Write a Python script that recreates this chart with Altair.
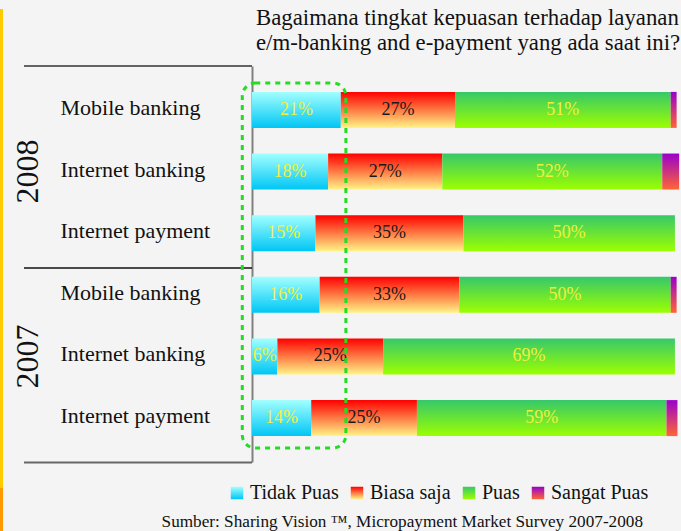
import altair as alt
import pandas as pd

# ---- data ----
years = ["2008", "2008", "2008", "2007", "2007", "2007"]
products = ["Mobile banking", "Internet banking", "Internet payment",
            "Mobile banking", "Internet banking", "Internet payment"]
categories = ["Tidak Puas", "Biasa saja", "Puas", "Sangat Puas"]
tidak_puas = [21, 18, 15, 16, 6, 14]
biasa_saja = [27, 27, 35, 33, 25, 25]
puas = [51, 52, 50, 50, 69, 59]
sangat_puas = [1.4, 4.0, 0.0, 1.4, 0.0, 2.6]

title_lines = ["Bagaimana tingkat kepuasan terhadap layanan",
               "e/m-banking and e-payment yang ada saat ini?"]
source_text = "Sumber: Sharing Vision \u2122, Micropayment Market Survey 2007-2008"

FONT = "Liberation Serif"

rows = [f"{y}|{p}" for y, p in zip(years, products)]
series = [tidak_puas, biasa_saja, puas, sangat_puas]
records = []
for i, r in enumerate(rows):
    for j, c in enumerate(categories):
        records.append({"row": r, "category": c, "order": j, "value": series[j][i]})
df = pd.DataFrame(records)

year_df = pd.DataFrame({"year": [years[1], years[4]], "row": [rows[1], rows[4]]})
dummy = pd.DataFrame({"a": [0]})


def grad(top, bottom):
    return {"expr": "{gradient: 'linear', x1: 0, y1: 0, x2: 0, y2: 1, "
                    f"stops: [{{offset: 0, color: '{top}'}}, {{offset: 1, color: '{bottom}'}}]}}"}


grads = [grad("#a2ffff", "#00c6f4"),
         grad("#ff0000", "#fff488"),
         grad("#36c86a", "#9cff00"),
         grad("#9900cc", "#ff6633")]

W, H = 428, 396

xscale = alt.Scale(domain=[0, 101.2], nice=False, zero=False)

base = alt.Chart(df).transform_stack(
    stack="value", groupby=["row"], as_=["x0", "x1"], sort=[alt.SortField("order")]
)

bars = base.mark_bar(strokeWidth=0).encode(
    y=alt.Y("row:N", sort=rows, title=None,
            scale=alt.Scale(paddingInner=0.416, paddingOuter=0.42),
            axis=alt.Axis(labelExpr="split(datum.label, '|')[1]", labelAlign="left",
                          labelPadding=192, ticks=False, tickSize=0, labelFont=FONT,
                          labelFontSize=22, labelColor="#111111", domainColor="#808080",
                          domainWidth=2, grid=False, labelBaseline="middle", labelOffset=-2)),
    x=alt.X("x0:Q", scale=xscale, axis=None),
    x2="x1:Q",
    color=alt.Color("category:N", scale=alt.Scale(domain=categories, range=grads),
                    legend=alt.Legend(orient="none", legendX=-25, legendY=417,
                                      direction="horizontal", title=None,
                                      symbolType="square", symbolSize=156,
                                      labelFont=FONT, labelFontSize=20,
                                      labelColor="#111111", columnPadding=8,
                                      labelOffset=3, symbolStrokeWidth=0)),
)

texts = base.transform_filter(
    "datum.category != 'Sangat Puas' && datum.value > 0"
).transform_calculate(
    mid="(datum.x0 + datum.x1) / 2", label="datum.value + '%'"
).mark_text(font=FONT, fontSize=18, baseline="middle").encode(
    y=alt.Y("row:N", sort=rows, title=None),
    x=alt.X("mid:Q", scale=xscale, axis=None),
    text="label:N",
    color=alt.condition("datum.category == 'Biasa saja'", alt.value("#1a1a1a"),
                        alt.value("#f0f03c")),
)

year_text = alt.Chart(year_df).mark_text(
    font=FONT, fontSize=32, angle=270, align="center", baseline="middle", color="#111111"
).encode(y=alt.Y("row:N", sort=rows, title=None), x=alt.value(-224), text="year:N")

box = alt.Chart(dummy).mark_rect(
    fill="transparent", stroke="#22dd22", strokeWidth=3, strokeDash=[5, 5], cornerRadius=13
).encode(x=alt.datum(-2.3, scale=xscale), x2=alt.datum(22.2), y=alt.value(17), y2=alt.value(382))

rule_top = alt.Chart(dummy).mark_rule(color="#333333", strokeWidth=1.5).encode(
    x=alt.value(-228), x2=alt.value(0), y=alt.value(0))
rule_mid = alt.Chart(dummy).mark_rule(color="#111111", strokeWidth=1.5).encode(
    x=alt.value(-228), x2=alt.value(0), y=alt.value(202))
rule_bot = alt.Chart(dummy).mark_rule(color="#666666", strokeWidth=2).encode(
    x=alt.value(-228), x2=alt.value(0), y=alt.value(396.5))

strip_y = alt.Chart(dummy).mark_rect(color="#ffcc00").encode(
    x=alt.value(-252), x2=alt.value(-249), y=alt.value(-57), y2=alt.value(422))
strip_o = alt.Chart(dummy).mark_rect(color="#ff9900").encode(
    x=alt.value(-252), x2=alt.value(-249), y=alt.value(422), y2=alt.value(465))

title1 = alt.Chart(dummy).mark_text(
    font=FONT, fontSize=22.8, align="left", baseline="alphabetic", color="#111111"
).encode(x=alt.value(4), y=alt.value(-41), text=alt.value(title_lines[0]))
title2 = alt.Chart(dummy).mark_text(
    font=FONT, fontSize=22.8, align="left", baseline="alphabetic", color="#111111"
).encode(x=alt.value(4), y=alt.value(-16), text=alt.value(title_lines[1]))

source = alt.Chart(dummy).mark_text(
    font=FONT, fontSize=17.2, align="right", baseline="alphabetic", color="#111111"
).encode(x=alt.value(391), y=alt.value(461), text=alt.value(source_text))

chart = alt.layer(
    strip_y, strip_o, rule_top, rule_mid, rule_bot, bars, texts, year_text, box,
    title1, title2, source
).properties(
    width=W, height=H,
    autosize=alt.AutoSizeParams(type="none"),
    padding={"left": 252, "top": 66, "right": 1, "bottom": 69},
    background="#f4f4f4",
).configure_view(stroke=None)

chart.save("out.html", embed_options={"renderer": "svg", "actions": False})
